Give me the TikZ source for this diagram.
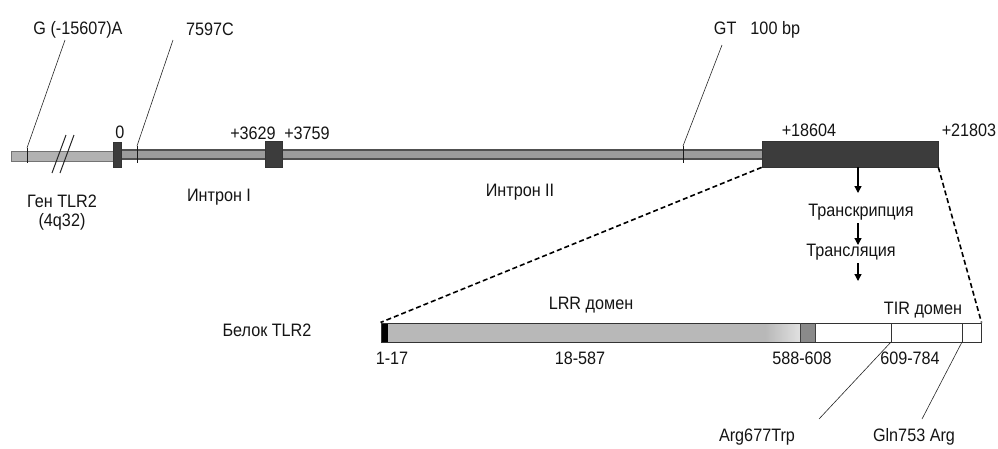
\documentclass[tikz,border=0pt]{standalone}
\usepackage{fontspec}
\setmainfont[FakeStretch=0.9]{Liberation Sans}
\usetikzlibrary{arrows.meta}
\definecolor{exonc}{HTML}{3C3C3C}
\definecolor{linec}{HTML}{505050}
\definecolor{stripe}{HTML}{9C9C9C}
\definecolor{lightg}{HTML}{B2B2B2}
\definecolor{protg}{HTML}{B8B8B8}
\definecolor{protd}{HTML}{8A8A8A}
\begin{document}
\begin{tikzpicture}[x=1pt,y=-1pt,
  lbl/.style={font=\fontsize{18}{20}\selectfont, inner sep=0pt, text=black!92},
  exon/.style={draw=black!80, fill=exonc, line width=0.8pt, inner sep=0pt},
  lead/.style={draw=black!85, line width=0.6pt},
  tick/.style={draw=black!90, line width=0.8pt},
  arr/.style={draw=black, line width=1.3pt, -{Triangle[width=7pt,length=7pt]}},
  zoomdash/.style={draw=black, line width=1.6pt, dash pattern=on 5pt off 3pt}
]
\useasboundingbox (0,0) rectangle (998,448);

% ---------- gene line ----------
\fill[lightg, draw=black!55, line width=0.8pt] (11,151) rectangle (114,161);
\fill[stripe, draw=linec, line width=2.4pt] (119,150) rectangle (764,159);
% break marks
\draw[black!85, line width=1pt] (52,173) -- (66,135);
\draw[black!85, line width=1pt] (60,173) -- (74,135);

% exons
\node[exon, minimum width=8pt, minimum height=25pt] (ex0) at (117,154.5) {};
\node[exon, minimum width=17pt, minimum height=26pt] (ex2) at (273.5,154) {};
\node[exon, minimum width=176pt, minimum height=26pt] (ex3) at (850,154) {};

% variant ticks
\coordinate (tG) at (27,148);
\coordinate (tC) at (137,146);
\coordinate (tGT) at (683,146);
\draw[tick] (27,148) -- (27,163);
\draw[tick] (137,146) -- (137,163);
\draw[tick] (683,146) -- (683,163);

% labels top
\node[lbl] (lG) at (78,30) {G (-15607)A};
\node[lbl] (lC) at (210,29) {7597C};
\node[lbl] (lGT) at (757,30) {GT\hspace{14pt}100 bp};
\coordinate (cG) at (65,40);
\coordinate (cC) at (173,40);
\coordinate (cGT) at (722,45);
\draw[lead] (tG) -- (cG);
\draw[lead] (tC) -- (cC);
\draw[lead] (tGT) -- (cGT);

\node[lbl] (l0) at (120,132) {0};
\node[lbl] (l3629) at (253,133) {+3629};
\node[lbl] (l3759) at (307,133) {+3759};
\node[lbl] (l18604) at (809,130) {+18604};
\node[lbl] (l21803) at (969,130) {+21803};

\node[lbl] (gen) at (62,201) {Ген TLR2};
\node[lbl] (loc) at (62,222) {(4q32)};
\node[lbl] (in1) at (219,197) {Интрон I};
\node[lbl] (in2) at (520,192) {Интрон II};

% transcription / translation
\node[lbl] (trs) at (861,212) {Транскрипция};
\node[lbl] (trl) at (851,252) {Трансляция};
\coordinate (a1s) at (858,167);
\coordinate (a1e) at (858,193);
\coordinate (a2s) at (858,223);
\coordinate (a2e) at (858,245);
\coordinate (a3s) at (858,263);
\coordinate (a3e) at (858,281);
\draw[arr] (a1s) -- (a1e);
\draw[arr] (a2s) -- (a2e);
\draw[arr] (a3s) -- (a3e);

% ---------- protein ----------
\fill[protg] (388,323) rectangle (800,342);
\shade[left color=protg, right color=black!12] (765,323) rectangle (800,342);
\fill[protd] (800,323) rectangle (815,342);
\fill[white] (815,323) rectangle (981,342);
\fill[black] (381,323) rectangle (388,342);
\node[draw=black!80, line width=1pt, minimum width=600pt, minimum height=19pt, inner sep=0pt] (prot) at (681,332.5) {};
\draw[black!75, line width=0.8pt] (800,323) -- (800,342);
\draw[black!75, line width=0.8pt] (815,323) -- (815,342);
\coordinate (d1) at (891,342);
\coordinate (d2) at (962,342);
\draw[black!80, line width=0.8pt] (891,323) -- (d1);
\draw[black!80, line width=0.8pt] (962,323) -- (d2);

% dashed zoom lines
\draw[zoomdash] (ex3.south west) -- (prot.north west);
\draw[zoomdash] (ex3.south east) -- (prot.north east);

\node[lbl] (bel) at (267,330) {Белок TLR2};
\node[lbl] (lrr) at (591,305) {LRR домен};
\node[lbl] (tir) at (923,310) {TIR домен};
\node[lbl] (p1) at (392,358) {1-17};
\node[lbl] (p2) at (580,358) {18-587};
\node[lbl] (p3) at (802,358) {588-608};
\node[lbl] (p4) at (910,358) {609-784};

\node[lbl] (m1) at (757,437) {Arg677Trp};
\node[lbl] (m2) at (914,437) {Gln753 Arg};
\coordinate (e1) at (819,419);
\coordinate (e2) at (922,419);
\draw[lead] (d1) -- (e1);
\draw[lead] (d2) -- (e2);
\end{tikzpicture}
\end{document}
